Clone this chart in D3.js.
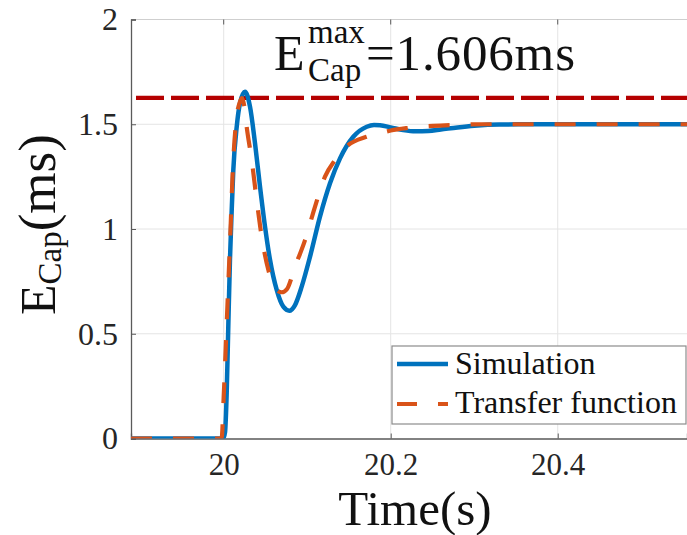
<!DOCTYPE html>
<html>
<head>
<meta charset="utf-8">
<script src="https://cdn.jsdelivr.net/npm/d3@7"></script>
<style>
  html, body { margin: 0; padding: 0; background: #fff; }
  svg { display: block; }
  svg text { font-family: 'Liberation Serif', 'DejaVu Serif', serif; }
</style>
</head>
<body>
<svg id="chart" width="687" height="535"></svg>
<script>
// ---- data ----
const simTime = [19.889, 19.9995, 20.0016, 20.0036, 20.0055, 20.0075, 20.0096, 20.0115, 20.0156, 20.0195,
  20.0255, 20.0315, 20.0375, 20.0435, 20.0495, 20.0555, 20.0635, 20.0714, 20.0786, 20.0854,
  20.0934, 20.1034, 20.1153, 20.1273, 20.1393, 20.1552, 20.1713, 20.18, 20.1872, 20.2,
  20.215, 20.23, 20.245, 20.26, 20.28, 20.30, 20.33, 20.4, 20.5, 20.56];
const simValue = [0, 0, 0.03, 0.217, 0.534, 0.852, 1.09, 1.28, 1.488, 1.60,
  1.655, 1.584, 1.409, 1.202, 1.011, 0.852, 0.709, 0.629, 0.610, 0.637,
  0.725, 0.868, 1.059, 1.218, 1.337, 1.44, 1.488, 1.496, 1.495, 1.485,
  1.472, 1.466, 1.468, 1.475, 1.485, 1.493, 1.499, 1.5, 1.5, 1.5];

const tfTime = [19.889, 19.9975, 20.0, 20.0036, 20.0075, 20.0115, 20.0156, 20.0195, 20.022, 20.0245,
  20.0275, 20.0335, 20.0395, 20.0455, 20.0535, 20.0635, 20.0695, 20.0755, 20.0854, 20.0974,
  20.1093, 20.1213, 20.1333, 20.147, 20.171, 20.187, 20.2, 20.22, 20.25, 20.28,
  20.31, 20.35, 20.45, 20.56];
const tfValue = [0, 0, 0.2, 0.55, 0.93, 1.33, 1.536, 1.608, 1.625, 1.59,
  1.488, 1.33, 1.138, 0.963, 0.804, 0.709, 0.698, 0.712, 0.82, 0.947,
  1.106, 1.25, 1.329, 1.393, 1.44, 1.457, 1.47, 1.482, 1.492, 1.497,
  1.5, 1.5, 1.5, 1.5];

const maxLineValue = 1.626;
const xTicks = [20, 20.2, 20.4];
const yTicks = [0, 0.5, 1, 1.5, 2];
const legendLabels = ["Simulation", "Transfer function"];

// ---- layout ----
const FONT = "'Liberation Serif', 'DejaVu Serif', serif";
const svg = d3.select("#chart");
const mLeft = 131, mRight = 687, mTop = 19.5, mBottom = 438.5;
const x = d3.scaleLinear().domain([19.889, 20.5548]).range([mLeft, mRight]);
const y = d3.scaleLinear().domain([0, 2]).range([mBottom, mTop]);

const colBlue = "#0072BD", colOrange = "#D95319", colRed = "#B50000";
const axisCol = "#5a5a5a", textCol = "#262626";

svg.append("defs").append("clipPath").attr("id", "clip")
  .append("rect").attr("x", mLeft).attr("y", mTop - 10).attr("width", mRight - mLeft + 10).attr("height", mBottom - mTop + 10);

// grid
const grid = svg.append("g");
grid.selectAll("line.gx").data(xTicks).join("line")
  .attr("x1", d => x(d)).attr("x2", d => x(d)).attr("y1", mTop).attr("y2", mBottom)
  .attr("stroke", "#e4e4e4").attr("stroke-width", 1);
grid.selectAll("line.gy").data(yTicks.filter(d => d > 0)).join("line")
  .attr("x1", mLeft).attr("x2", mRight).attr("y1", d => y(d)).attr("y2", d => y(d))
  .attr("stroke", "#e4e4e4").attr("stroke-width", 1);

// top border (light) with inward ticks
svg.append("line").attr("x1", mLeft).attr("x2", mRight).attr("y1", mTop).attr("y2", mTop)
  .attr("stroke", "#cfcfcf").attr("stroke-width", 1.2);
svg.selectAll("line.topTick").data(xTicks).join("line")
  .attr("x1", d => x(d)).attr("x2", d => x(d)).attr("y1", mTop).attr("y2", mTop + 5)
  .attr("stroke", axisCol).attr("stroke-width", 1);

// axes
const xAxis = d3.axisBottom(x).tickValues(xTicks).tickSize(-5).tickPadding(14)
  .tickFormat(d => d3.format("")(d));
const gx = svg.append("g").attr("transform", `translate(0,${mBottom})`).call(xAxis);
gx.attr("font-family", FONT);
gx.select(".domain").attr("stroke", axisCol).attr("stroke-width", 1.3);
gx.selectAll(".tick line").attr("stroke", axisCol);
gx.selectAll("text").attr("font-size", 31).attr("fill", textCol).style("font-family", FONT);

const yAxis = d3.axisLeft(y).tickValues(yTicks).tickSize(-5).tickPadding(13)
  .tickFormat(d => d3.format("")(d));
const gy = svg.append("g").attr("transform", `translate(${mLeft},0)`).call(yAxis);
gy.attr("font-family", FONT);
gy.select(".domain").attr("stroke", axisCol).attr("stroke-width", 1.3);
gy.selectAll(".tick line").attr("stroke", axisCol);
gy.selectAll("text").attr("font-size", 32).attr("fill", textCol).style("font-family", FONT);

// series
const plot = svg.append("g").attr("clip-path", "url(#clip)");

plot.append("line")
  .attr("x1", mLeft).attr("x2", mRight + 10)
  .attr("y1", y(maxLineValue)).attr("y2", y(maxLineValue))
  .attr("stroke", colRed).attr("stroke-width", 4.2)
  .attr("stroke-dasharray", "28,7").attr("stroke-dashoffset", -5);

const line = d3.line().x(d => x(d[0])).y(d => y(d[1])).curve(d3.curveMonotoneX);
const simData = simTime.map((t, i) => [t, simValue[i]]);
const tfData = tfTime.map((t, i) => [t, tfValue[i]]);

plot.append("path").datum(simData).attr("d", line)
  .attr("fill", "none").attr("stroke", colBlue).attr("stroke-width", 4.5)
  .attr("stroke-linejoin", "round");
plot.append("path").datum(tfData).attr("d", line)
  .attr("fill", "none").attr("stroke", colOrange).attr("stroke-width", 4.2)
  .attr("stroke-dasharray", "21,21");

// annotation E^max_Cap = 1.606ms
const ann = svg.append("g").attr("fill", "#111").style("font-family", FONT);
ann.append("text").attr("x", 274).attr("y", 70).attr("font-size", 50).style("font-family", FONT).text("E");
ann.append("text").attr("x", 308).attr("y", 43).attr("font-size", 33).style("font-family", FONT).text("max");
ann.append("text").attr("x", 308).attr("y", 81).attr("font-size", 33).style("font-family", FONT).text("Cap");
ann.append("text").attr("x", 366).attr("y", 70).attr("font-size", 51).attr("textLength", 209).style("font-family", FONT).text("=1.606ms");

// axis titles
svg.append("text").attr("x", 415).attr("y", 525).attr("text-anchor", "middle")
  .attr("font-size", 49).attr("fill", "#111").style("font-family", FONT).text("Time(s)");

const yl = svg.append("text").attr("transform", "translate(55,315) rotate(-90)")
  .attr("fill", "#111").style("font-family", FONT);
yl.append("tspan").attr("font-size", 50).text("E");
yl.append("tspan").attr("font-size", 33).attr("dy", 6).text("Cap");
yl.append("tspan").attr("font-size", 53).attr("dy", -6).text("(ms)");

// legend
const lg = svg.append("g");
lg.append("rect").attr("x", 392).attr("y", 346).attr("width", 294).attr("height", 78)
  .attr("fill", "#fff").attr("stroke", "#8c8c8c").attr("stroke-width", 1.2);
lg.append("line").attr("x1", 397).attr("x2", 448).attr("y1", 364).attr("y2", 364)
  .attr("stroke", colBlue).attr("stroke-width", 4.5);
lg.append("line").attr("x1", 397).attr("x2", 448).attr("y1", 404).attr("y2", 404)
  .attr("stroke", colOrange).attr("stroke-width", 4.2).attr("stroke-dasharray", "20,21");
lg.selectAll("text.lg").data(legendLabels).join("text")
  .attr("x", 455).attr("y", (d, i) => 374 + i * 39)
  .attr("font-size", 32).attr("fill", "#111").style("font-family", FONT).text(d => d);
</script>
</body>
</html>
